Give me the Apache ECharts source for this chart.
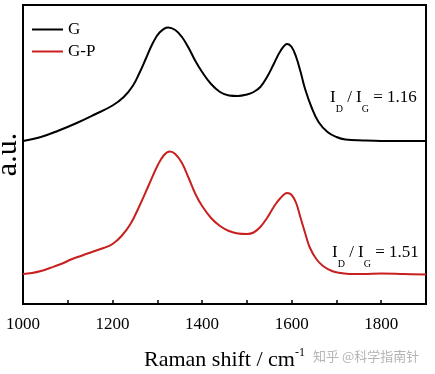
<!DOCTYPE html>
<html>
<head>
<meta charset="utf-8">
<script src="https://cdn.jsdelivr.net/npm/echarts@6/dist/echarts.min.js"></script>
<style>
html,body{margin:0;padding:0;background:#fff;}
#chart{width:435px;height:374px;}
</style>
</head>
<body>
<div id="chart"></div>
<script>
// Raman shift (cm^-1) and intensity (arbitrary, offset) for G
var gShift = [1000,1040,1080,1120,1160,1200,1225,1245,1260,1275,1290,1305,1324,1340,1355,1370,1385,1400,1420,1440,1460,1480,1500,1515,1530,1545,1560,1575,1590,1600,1610,1620,1630,1645,1660,1680,1700,1720,1760,1800,1900];
var gIntensity = [163,167,173.5,181,189.5,198.5,207,218,231,246,261,271.5,276.5,274,267,256,243,232,220,212,208.5,208,209.5,212,217,227,240,253,260,257,247,232,215,196,182,172,167,164.5,163.5,163,163];
// G-P
var gpShift = [1000,1020,1040,1060,1085,1110,1135,1160,1180,1200,1220,1240,1260,1280,1300,1315,1328,1340,1355,1370,1385,1400,1420,1440,1460,1480,1500,1515,1530,1545,1560,1575,1590,1600,1610,1620,1630,1640,1655,1670,1690,1710,1730,1760,1800,1850,1900];
var gpIntensity = [30,31,33,36,40,45,49,53,56,60,68,80,98,118,138,149,152.5,150,141,126,110,98,86,78,73,70.5,70,71.5,77,86,97,106,111,109,101,86,71,57,45,38,33,31,30,30,30.5,30,29.5];

var seriesNames = ['G', 'G-P'];
var ratioLabels = ['1.16', '1.51'];
var xTicks = {min: 1000, max: 1900, interval: 200};

function pairs(xs, ys) { return xs.map(function (x, i) { return [x, ys[i]]; }); }

var serif = "'Liberation Serif','Times New Roman',serif";
var chart = echarts.init(document.getElementById('chart'), null, {renderer: 'canvas'});

function ratioText(val, left, top) {
  return {
    type: 'text', left: left, top: top, z: 10,
    style: {
      text: '{a|I}{s|D}{a| / I}{s|G}{a| = ' + val + '}',
      rich: {
        a: {fontFamily: serif, fontSize: 17, lineHeight: 17, verticalAlign: 'top', fill: '#000'},
        s: {fontFamily: serif, fontSize: 10, lineHeight: 25, verticalAlign: 'bottom', fill: '#000'}
      }
    }
  };
}

chart.setOption({
  animation: false,
  backgroundColor: '#fff',
  grid: {left: 23, right: 9, top: 5, bottom: 70, show: true, borderColor: '#000', borderWidth: 2, outerBoundsMode: 'none', containLabel: false},
  legend: {
    orient: 'vertical', left: 32, top: 21, padding: 0, icon: 'rect', itemWidth: 31, itemHeight: 2, itemGap: 5,
    textStyle: {fontFamily: serif, fontSize: 17, lineHeight: 14, height: 14, color: '#000', padding: [0,0,0,0]},
    data: seriesNames
  },
  xAxis: {
    type: 'value', min: xTicks.min, max: xTicks.max, interval: xTicks.interval,
    axisLine: {show: true, lineStyle: {color: '#000', width: 2}},
    axisTick: {show: true, inside: true, length: 4, lineStyle: {color: '#000', width: 1.5}},
    minorTick: {show: true, splitNumber: 2, length: 4, lineStyle: {color: '#000', width: 1.5}},
    splitLine: {show: false},
    minorSplitLine: {show: false},
    axisLabel: {fontFamily: serif, fontSize: 17, color: '#000', margin: 12, showMaxLabel: false,
      formatter: function (v) { return String(v); }},
    name: '{a|Raman shift / cm}{b|-1}',
    nameLocation: 'middle', nameGap: 43,
    nameTextStyle: {
      rich: {
        a: {fontFamily: serif, fontSize: 22, lineHeight: 24, verticalAlign: 'bottom', color: '#000'},
        b: {fontFamily: serif, fontSize: 12, lineHeight: 7, verticalAlign: 'top', color: '#000'}
      }
    }
  },
  yAxis: {
    type: 'value', min: 0, max: 299,
    axisLine: {show: true, lineStyle: {color: '#000', width: 2}},
    axisTick: {show: false}, axisLabel: {show: false}, splitLine: {show: false},
    name: 'a.u.', nameLocation: 'middle', nameGap: 0,
    nameTextStyle: {fontFamily: serif, fontSize: 30, color: '#000'}
  },
  series: [
    {name: seriesNames[0], type: 'line', data: pairs(gShift, gIntensity), smooth: 0.4, symbol: 'none',
     lineStyle: {color: '#000', width: 2}, itemStyle: {color: '#000'}},
    {name: seriesNames[1], type: 'line', data: pairs(gpShift, gpIntensity), smooth: 0.4, symbol: 'none',
     lineStyle: {color: '#c8201f', width: 2}, itemStyle: {color: '#c8201f'}}
  ],
  graphic: [
    ratioText(ratioLabels[0], 330, 89),
    ratioText(ratioLabels[1], 332, 244),
    {type: 'text', left: 313, top: 350, z: 10,
     style: {text: '知乎 @科学指南针', fontFamily: "'Noto Sans CJK SC',sans-serif", fontSize: 13, fill: '#b4b4b4'}}
  ]
});
</script>
</body>
</html>
